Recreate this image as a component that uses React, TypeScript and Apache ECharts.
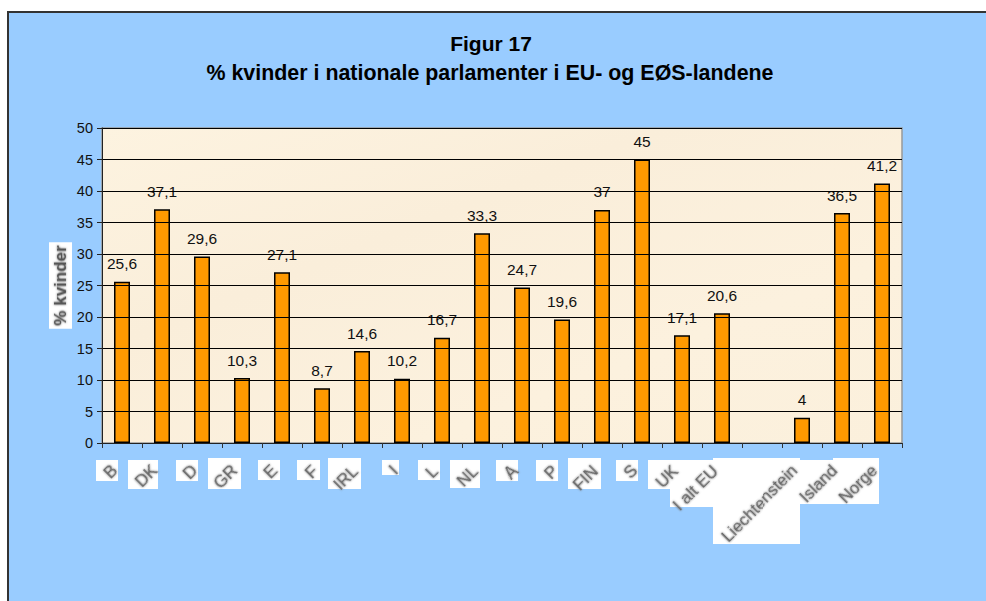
import React, { useEffect, useRef } from "react";
import * as echarts from "echarts";

const categories = ["B","DK","D","GR","E","F","IRL","I","L","NL","A","P","FIN","S","UK","I alt EU","","Liechtenstein","Island","Norge"];
const values: (number | null)[] = [25.6,37.1,29.6,10.3,27.1,8.7,14.6,10.2,16.7,33.3,24.7,19.6,37,45,17.1,20.6,null,4,36.5,41.2];
const yTicks = { min: 0, max: 50, interval: 5 };
const titleLines = ["Figur 17", "% kvinder i nationale parlamenter i EU- og EØS-landene"];
const yName = "% kvinder";
// white tiles behind the category labels: [x0, y0, x1, y1]
const tiles = [
  [96,460,118,481],[128,460,158,489],[176,460,198,481],[208,458,241,489],[258,460,280,480],
  [297,460,320,480],[328,458,361,489],[382,460,399,475],[418,460,440,480],[450,460,480,488],
  [496,460,518,481],[536,460,558,481],[568,458,601,489],[616,460,638,481],[648,460,680,489],
  [670,460,713,507],[713,458,800,544],[800,460,833,504],[833,458,879,504],
];

export default function App() {
  const ref = useRef<HTMLDivElement>(null);
  useEffect(() => {
    document.body.style.margin = "0";
    const chart = echarts.init(ref.current!, null, { renderer: "svg" });
    chart.setOption({
      animation: false,
      backgroundColor: "#ffffff",
      title: [
        { text: titleLines[0], left: 486, top: 28, textAlign: "center",
          textStyle: { fontFamily: "Liberation Sans", fontSize: 21, fontWeight: "bold", color: "#000" } },
        { text: titleLines[1], left: 485, top: 57, textAlign: "center",
          textStyle: { fontFamily: "Liberation Sans", fontSize: 21.4, fontWeight: "bold", color: "#000" } },
      ],
      graphic: [
        { type: "rect", z: -1, shape: { x: 8, y: 12, width: 1000, height: 620 },
          style: { fill: "#99ccff", stroke: "#333333", lineWidth: 2 } },
        ...tiles.map(([a, b, c, d]) => ({
          type: "rect", z: 0, silent: true,
          shape: { x: a, y: b, width: c - a, height: d - b }, style: { fill: "#ffffff" },
        })),
      ],
      grid: { left: 102, top: 128, width: 800, height: 315, show: true,
        backgroundColor: new echarts.graphic.LinearGradient(0, 0, 1, 1, [
          { offset: 0, color: "#fdf3e0" },
          { offset: 0.35, color: "#faeeda" },
          { offset: 0.7, color: "#fcf1de" },
          { offset: 1, color: "#fbf0dc" },
        ]),
        borderColor: "#999999", borderWidth: 1.5 },
      xAxis: {
        type: "category", data: categories, z: 5,
        axisLine: { lineStyle: { color: "#222222", width: 1 } },
        axisTick: { show: true, alignWithLabel: false, length: 5, lineStyle: { color: "#333333" } },
        axisLabel: { interval: 0, rotate: 45, margin: 18, padding: [0, 10, 0, 0],
          fontFamily: "Liberation Sans", fontSize: 17, color: "#666666",
          textShadowColor: "#777777", textShadowBlur: 2 },
      },
      yAxis: {
        type: "value", ...yTicks, z: 5,
        name: yName, nameLocation: "middle", nameGap: 30, nameRotate: 90, nameMoveOverlap: false,
        nameTextStyle: { fontFamily: "Liberation Sans", fontSize: 17, fontWeight: "bold", color: "#555555",
          backgroundColor: "#ffffff", padding: [3, 3, 3, 3], textShadowColor: "#777777", textShadowBlur: 2 },
        axisLine: { show: true, lineStyle: { color: "#222222" } },
        axisTick: { show: true, length: 5, lineStyle: { color: "#222222" } },
        axisLabel: { margin: 9, fontFamily: "Liberation Sans", fontSize: 14.5, color: "#111" },
        splitLine: { show: true, lineStyle: { color: "#000000", width: 1 } },
      },
      series: [{
        type: "bar", data: values, barWidth: 16,
        itemStyle: { color: "#ff9900", borderColor: "#000000", borderWidth: 1.5 },
        label: { show: true, position: "top", distance: 10, fontFamily: "Liberation Sans", fontSize: 15.5, color: "#111",
          formatter: (p: any) => String(p.value).replace(".", ",") },
      }],
    });
    return () => chart.dispose();
  }, []);
  return <div ref={ref} style={{ width: 986, height: 601, position: "absolute", left: 0, top: 0 }} />;
}
